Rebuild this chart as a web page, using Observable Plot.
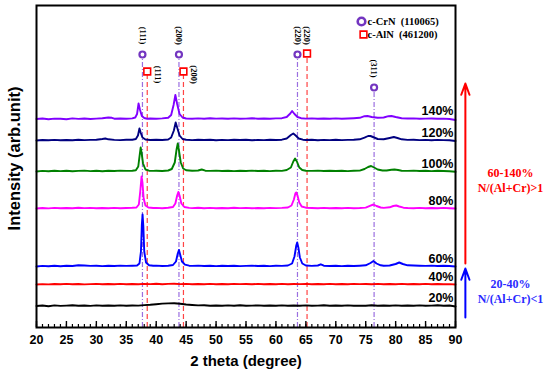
<!DOCTYPE html>
<html><head><meta charset="utf-8">
<script src="https://cdn.jsdelivr.net/npm/d3@7"></script>
<script src="https://cdn.jsdelivr.net/npm/@observablehq/plot@0.6"></script>
<style>body{margin:0;background:#fff} svg{display:block}</style>
</head><body><div id="chart"></div>
<script>
// ---------- data ----------
const seriesNames  = ["20%","40%","60%","80%","100%","120%","140%"];
const seriesColors = ["#000000","#ff0000","#0000ff","#ff00ff","#008000","#000080","#8000ff"];
const baselines    = [21.5, 43, 61, 119, 156, 187, 208.5];   // stacking offsets (arb. units)

const trace20 = [[20,0],[21,0.5],[22,-0.2],[23,0.6],[24,0.1],[25,0.4],[26,0.8],[27,0.2],[28,0.5],[29,0.1],[30,0.6],[31,0.3],[32,0.5],[33,0.2],[34,0.6],[35,0.3],[36,0.5],[37,0.4],[38,0.9],[39,1.2],[40,1.8],[41,2.4],[42,2.6],[43,2.8],[44,2.2],[45,1.5],[46,1],[47,0.6],[48,0.8],[49,0.3],[50,0.5],[51,0.2],[52,0.6],[53,0.3],[54,0.7],[55,0.2],[56,0.4],[57,0.6],[58,0.2],[59,0.5],[60,0.3],[61,0.6],[62,0.2],[63,0.5],[64,0.3],[65,0.6],[66,0.2],[67,0.4],[68,0.7],[69,0.2],[70,0.5],[71,0.3],[72,0.6],[73,0.2],[74,0.4],[75,0.3],[76,0.7],[77,0.2],[78,0.5],[79,0.3],[80,0.6],[81,0.2],[82,0.5],[83,0.3],[84,0.6],[85,0.2],[86,0.4],[87,0.8],[88,0.3],[89,0.5],[90,-0.5]];
const trace40 = [[20,0],[21,0.4],[22,0.1],[23,0.5],[24,0.2],[25,0.6],[26,0.3],[27,0.5],[28,0.1],[29,0.4],[30,0.6],[31,0.2],[32,0.5],[33,0.3],[34,0.6],[35,0.2],[36,0.5],[37,0.3],[38,0.6],[39,0.4],[40,0.7],[41,0.3],[42,0.6],[43,0.8],[44,0.4],[45,0.6],[46,0.3],[47,0.5],[48,0.2],[49,0.6],[50,0.3],[51,0.5],[52,0.2],[53,0.6],[54,0.4],[55,0.5],[56,0.2],[57,0.6],[58,0.3],[59,0.5],[60,0.2],[61,0.6],[62,0.3],[63,0.5],[64,0.4],[65,0.6],[66,0.2],[67,0.5],[68,0.3],[69,0.6],[70,0.2],[71,0.5],[72,0.3],[73,0.6],[74,0.4],[75,0.5],[76,0.3],[77,0.6],[78,0.2],[79,0.5],[80,0.3],[81,0.6],[82,0.2],[83,0.5],[84,0.3],[85,0.6],[86,0.2],[87,0.5],[88,0.3],[89,0.4],[90,0]];
const trace60 = [[20,0],[21,0.6],[22,0.2],[23,0.8],[24,0.3],[25,0.7],[26,0.5],[27,1.2],[28,1],[29,0.6],[30,0.8],[31,0.4],[32,0.7],[33,0.5],[34,0.9],[35,0.6],[36,0.8],[36.8,1],[37.2,3],[37.45,15],[37.6,42],[37.72,52],[37.85,40],[38,15],[38.3,4],[38.8,1.2],[39.5,0.7],[40,0.9],[41,0.5],[42,0.8],[42.8,1.5],[43.3,5],[43.6,13],[43.8,16.5],[44,12],[44.3,5],[44.8,1.8],[45.5,0.8],[46,0.6],[47,0.9],[48,0.5],[49,0.8],[50,0.4],[51,0.7],[52,0.5],[53,0.8],[54,0.4],[55,0.6],[56,0.9],[57,0.5],[58,0.7],[59,0.4],[60,0.8],[61,0.6],[62,1],[62.7,3],[63.1,10],[63.4,21],[63.55,24],[63.75,19],[64,9],[64.4,3],[65,1],[66,0.6],[67,1],[67.5,2.2],[68,0.8],[69,0.5],[70,0.8],[71,0.4],[72,0.7],[73,0.5],[74,0.8],[75,1.2],[75.8,3.5],[76.3,5.5],[76.8,3],[77.5,1.2],[78,0.8],[79,1],[80,2.5],[80.6,4],[81.2,2.5],[82,1.2],[83,1],[84,0.8],[85,0.6],[86,0.9],[87,0.5],[88,0.7],[89,0.5],[90,0]];
const trace80 = [[20,0],[21,0.5],[22,0.1],[23,0.6],[24,0.3],[25,0.5],[26,0.2],[27,0.7],[28,0.4],[29,0.6],[30,0.2],[31,0.5],[32,0.3],[33,0.6],[34,0.2],[35,0.5],[36,0.7],[36.7,1],[37.1,4],[37.35,18],[37.55,32],[37.7,26],[37.9,10],[38.2,3],[38.7,1],[39.5,0.5],[40,0.6],[41,0.3],[42,0.7],[42.8,1.5],[43.2,5],[43.5,13],[43.7,16.5],[43.9,13],[44.2,5],[44.7,1.5],[45.5,0.6],[46,0.4],[47,0.7],[48,0.3],[49,0.6],[50,0.2],[51,0.5],[52,0.3],[53,0.7],[54,0.4],[55,0.6],[56,0.2],[57,0.5],[58,0.3],[59,0.6],[60,0.4],[61,0.6],[62,1],[62.6,3],[63,9],[63.25,15],[63.4,16],[63.6,13],[63.9,6],[64.3,2],[65,0.8],[66,0.5],[67,0.3],[68,0.6],[69,0.2],[70,0.5],[71,0.3],[72,0.6],[73,0.3],[74,0.5],[75,0.9],[75.8,2.8],[76.3,4],[76.8,2.5],[77.5,1],[78,0.6],[79,1.2],[79.6,2.5],[80.1,3],[80.6,2],[81.3,0.8],[82,0.5],[83,0.3],[84,0.6],[85,0.2],[86,0.5],[87,0.3],[88,0.6],[89,0.3],[90,0]];
const trace100 = [[20,0],[21,0.6],[22,0.2],[23,0.8],[24,0.4],[25,0.7],[26,0.3],[27,0.6],[28,0.9],[29,0.4],[30,0.7],[31,0.3],[32,0.8],[33,0.5],[34,0.9],[35,0.6],[36,0.8],[36.6,1.2],[37,5],[37.25,17],[37.4,24],[37.55,19],[37.8,8],[38.2,2],[38.8,0.8],[39.5,0.6],[40,0.8],[41,0.5],[42,1],[42.6,2.5],[43.1,9],[43.4,22],[43.6,28],[43.8,21],[44.1,9],[44.5,3],[45,1.2],[46,0.7],[47,1],[47.6,2],[48.2,0.8],[49,0.6],[50,0.9],[51,0.5],[52,0.8],[53,0.4],[54,0.7],[55,0.5],[56,0.9],[57,0.5],[58,0.7],[59,0.4],[60,0.8],[61,0.6],[61.8,1.5],[62.5,4],[62.9,10],[63.2,13],[63.5,10],[63.9,4],[64.4,1.5],[65,0.8],[66,0.6],[67,0.9],[68,0.5],[69,0.8],[70,0.5],[71,0.7],[72,0.4],[73,0.8],[74,0.9],[74.8,2.5],[75.4,4.5],[75.9,5.5],[76.4,4],[77,2],[77.8,1],[78.5,1],[79.3,1.8],[79.8,2],[80.4,1.5],[81,0.8],[82,0.6],[83,0.9],[84,0.5],[85,0.7],[86,0.4],[87,0.8],[88,0.5],[89,0.3],[90,-0.3]];
const trace120 = [[20,0],[21,0.5],[22,0.2],[23,0.6],[24,0.3],[25,0.5],[26,0.2],[27,0.7],[28,0.4],[29,0.6],[30,0.8],[31,1.5],[31.5,2],[32,1.2],[33,0.6],[34,0.4],[35,0.7],[36,0.8],[36.6,1.5],[36.95,5],[37.2,12],[37.4,8],[37.7,3],[38.2,1],[39,0.5],[40,0.7],[41,0.5],[42,1],[42.5,3],[42.95,10],[43.25,18],[43.5,13],[43.9,5],[44.4,1.5],[45,0.7],[46,0.4],[47,0.8],[48,0.5],[49,0.7],[50,0.3],[51,0.6],[52,0.4],[53,0.8],[54,0.5],[55,0.7],[56,0.3],[57,0.6],[58,0.4],[59,0.7],[60,0.5],[61,0.8],[61.8,2],[62.5,5.5],[62.9,7],[63.3,5],[63.8,2],[64.5,0.8],[65,0.5],[66,0.7],[67,0.3],[68,0.6],[69,0.4],[70,0.7],[71,0.4],[72,0.6],[73,0.8],[74,1.2],[74.8,2.8],[75.4,4.5],[75.8,4.5],[76.4,3],[77,1.5],[78,1.2],[79,2.5],[79.7,3.5],[80.3,2.5],[81,1.2],[82,0.6],[83,0.8],[84,0.4],[85,0.6],[86,0.3],[87,0.6],[88,0.4],[89,0.2],[90,-0.5]];
const trace140 = [[20,0],[21,0.5],[22,-0.3],[23,0.4],[24,0.2],[25,-0.2],[26,0.6],[27,0.1],[28,0.5],[29,0],[30,0.4],[31,0.8],[32,1.5],[32.6,1.2],[33,0.3],[34,0.5],[35,0.2],[36,0.6],[36.5,1.5],[36.8,5],[37.05,15.5],[37.3,9],[37.6,3],[38,1],[38.5,0.3],[39,0.5],[40,0.2],[41,0.6],[42,1.2],[42.5,4],[42.9,14],[43.2,24],[43.5,15],[43.9,5],[44.4,1.5],[45,0.5],[46,0.3],[47,0.6],[48,0.2],[49,0.8],[50,0.4],[51,0.5],[52,0.2],[53,0.6],[54,0.3],[55,0.4],[56,0.8],[57,0.3],[58,0.5],[59,0.2],[60,0.6],[61,0.8],[61.8,2],[62.4,5.5],[62.7,8],[63.1,5],[63.6,2],[64.2,0.8],[65,0.4],[66,0.6],[67,0.2],[68,0.5],[69,0.3],[70,0.6],[71,0.2],[72,0.5],[73,0.8],[74,1.2],[74.8,2.8],[75.3,3],[76,2],[77,1.2],[78,1.5],[78.8,2.8],[79.3,3],[80,2],[81,0.8],[82,0.5],[83,0.6],[84,0.2],[85,0.4],[86,0.5],[87,0.2],[88,0.4],[89,0],[90,-1]];
const traces = [trace20, trace40, trace60, trace80, trace100, trace120, trace140];

// reference patterns
const crnHkl = ["(111)","(200)","(220)","(311)"];
const crnPos = [37.7, 43.8, 63.6, 76.4];
const alnHkl = ["(111)","(200)","(220)"];
const alnPos = [38.5, 44.55, 65.2];

const xTicks = [20,25,30,35,40,45,50,55,60,65,70,75,80,85,90];
const legendLabels = ["c-CrN  (110065)", "c-AlN  (461200)"];
const groupLabels = ["60-140%\nN/(Al+Cr)>1", "20-40%\nN/(Al+Cr)<1"];

// ---------- build ----------
const rows = [];
traces.forEach((t, i) => t.forEach(([x, v]) => rows.push({s: seriesNames[i], x, y: v + baselines[i]})));
const ends = seriesNames.map((s, i) => ({s, y: baselines[i]}));
const crn = crnHkl.map((h, i) => ({h, x: crnPos[i], top: h === "(311)" ? 240 : 273}));
const aln = alnHkl.map((h, i) => ({h, x: alnPos[i], top: h === "(220)" ? 274 : 256}));

const SANS = "Liberation Sans, Arial, sans-serif";
const SERIF = "Liberation Serif, Times New Roman, serif";
const CRN_LINE = "#9b6fe0", CRN_DOT = "#7335c0", ALN = "#ff4444";

const chart = Plot.plot({
  width: 550, height: 374,
  marginLeft: 36, marginRight: 95, marginTop: 5, marginBottom: 47,
  x: {domain: [20, 90]},
  y: {domain: [0, 322], axis: null},
  color: {domain: seriesNames, range: seriesColors},
  style: {background: "white", fontFamily: SANS, overflow: "visible"},
  marks: [
    // reference lines
    Plot.ruleX(crn, {x: "x", y1: 0, y2: "top", stroke: CRN_LINE, strokeWidth: 1.2, strokeDasharray: "5,2,1,2"}),
    Plot.ruleX(aln, {x: "x", y1: 0, y2: "top", stroke: ALN, strokeWidth: 1.2, strokeDasharray: "5,3"}),
    // traces
    Plot.line(rows, {x: "x", y: "y", z: "s", stroke: "s", strokeWidth: 1.9, curve: "linear"}),
    // markers
    Plot.dot(crn, {x: "x", y: "top", r: 3, stroke: CRN_DOT, strokeWidth: 2.2, fill: "white"}),
    Plot.dot(aln, {x: "x", y: "top", r: 3.8, symbol: "square", stroke: "#ff0000", strokeWidth: 1.6, fill: "white"}),
    Plot.text(crn, {x: "x", y: "top", text: "h", rotate: 90, dy: -19, fontSize: 8.5, fontWeight: "bold", fontFamily: SERIF, fill: "black"}),
    Plot.text(aln.filter(d => d.h !== "(220)"), {x: "x", y: "top", text: "h", rotate: 90, dx: 10, dy: 3, fontSize: 8.5, fontWeight: "bold", fontFamily: SERIF, fill: "black"}),
    Plot.text(aln.filter(d => d.h === "(220)"), {x: "x", y: "top", text: "h", rotate: 90, dy: -18, fontSize: 8.5, fontWeight: "bold", fontFamily: SERIF, fill: "black"}),
    // series labels
    Plot.text(ends, {x: () => 90, y: "y", text: "s", textAnchor: "end", dx: -2, dy: -8, fontSize: 12.5, fontWeight: "bold", fill: "black"}),
    // legend
    Plot.dot([0], {frameAnchor: "top-left", dx: 325, dy: 16, r: 3.8, stroke: CRN_DOT, strokeWidth: 2.6, fill: "white"}),
    Plot.dot([0], {frameAnchor: "top-left", dx: 327, dy: 29, r: 3.8, symbol: "square", stroke: "#ff0000", strokeWidth: 1.6, fill: "white"}),
    Plot.text([legendLabels[0]], {frameAnchor: "top-left", dx: 331, dy: 16, text: d => d, textAnchor: "start", lineAnchor: "middle", fontSize: 10.5, fontWeight: "bold", fontFamily: SERIF, fill: "black"}),
    Plot.text([legendLabels[1]], {frameAnchor: "top-left", dx: 331, dy: 29, text: d => d, textAnchor: "start", lineAnchor: "middle", fontSize: 10.5, fontWeight: "bold", fontFamily: SERIF, fill: "black"}),
    // frame and axis
    Plot.frame({stroke: "black", strokeWidth: 2}),
    Plot.ruleX(d3.range(20, 91, 1), {x: d => d, y1: 0, y2: 3, stroke: "black", strokeWidth: 1.2}),
    Plot.ruleX(xTicks, {x: d => d, y1: 0, y2: 6, stroke: "black", strokeWidth: 1.4}),
    Plot.axisX(xTicks, {tickSize: 0, tickPadding: 8, fontSize: 12.5, fontWeight: "bold", fill: "black", label: null}),
    Plot.text(["2 theta (degree)"], {frameAnchor: "bottom", dy: 34, text: d => d, lineAnchor: "middle", fontSize: 15, fontWeight: "bold", fill: "black"}),
    Plot.text(["Intensity (arb.unit)"], {frameAnchor: "left", dx: -22, dy: -8, rotate: -90, textAnchor: "middle", lineAnchor: "middle", text: d => d, fontSize: 16.5, fontWeight: "bold", fill: "black"}),
    // group arrows and notes
    Plot.arrow([{y1: 64, y2: 244}], {x1: () => 91.65, x2: () => 91.65, y1: "y1", y2: "y2", stroke: "#ff0000", strokeWidth: 2, headLength: 9, headAngle: 40}),
    Plot.arrow([{y1: 10, y2: 59}], {x1: () => 91.65, x2: () => 91.65, y1: "y1", y2: "y2", stroke: "#0000ff", strokeWidth: 2, headLength: 9, headAngle: 40}),
    Plot.text([groupLabels[0]], {frameAnchor: "right", dx: 55, dy: 13.5, textAnchor: "middle", lineAnchor: "middle", text: d => d, fontSize: 12, lineHeight: 1.25, fontWeight: "bold", fontFamily: SERIF, fill: "#ff0000"}),
    Plot.text([groupLabels[1]], {frameAnchor: "right", dx: 55, dy: 124.5, textAnchor: "middle", lineAnchor: "middle", text: d => d, fontSize: 12, lineHeight: 1.25, fontWeight: "bold", fontFamily: SERIF, fill: "#2a2aff"})
  ]
});
document.getElementById("chart").appendChild(chart);
</script>
</body></html>
